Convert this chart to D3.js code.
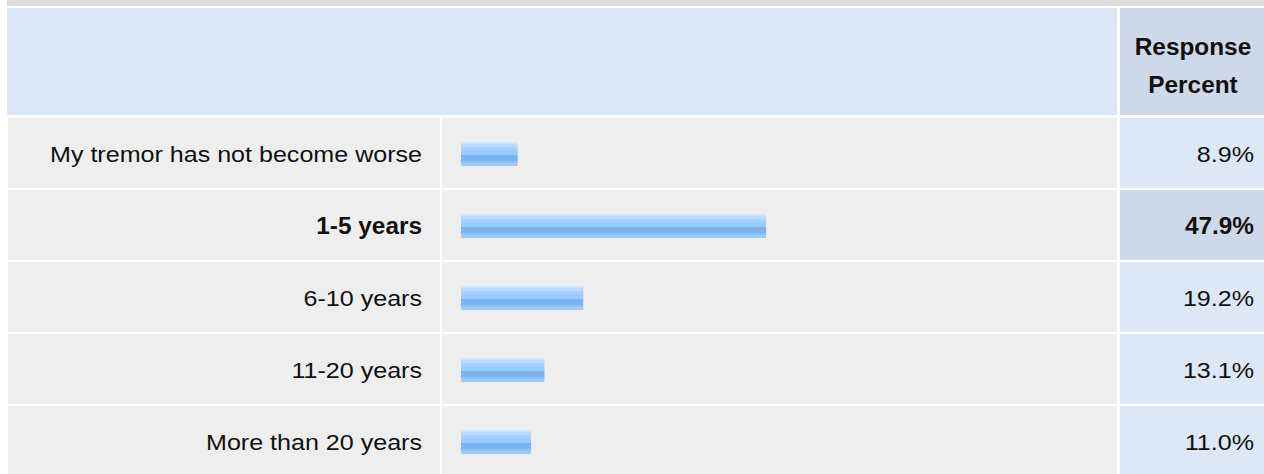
<!DOCTYPE html>
<html>
<head>
<meta charset="utf-8">
<script src="https://cdn.jsdelivr.net/npm/d3@7"></script>
<style>
  html, body { margin: 0; padding: 0; background: #fff; }
  svg { display: block; }
</style>
</head>
<body>
<div id="chart"></div>
<script>
// survey answers and their percentages
const categories = ["My tremor has not become worse", "1-5 years", "6-10 years", "11-20 years", "More than 20 years"];
const percents = [8.9, 47.9, 19.2, 13.1, 11.0];
const highlighted = ["1-5 years"];
const headerLines = ["Response", "Percent"];

function survey_table(div_id) {
    const width = 1264, height = 474;
    const rowTop = 118, rowStep = 72, rowH = 70;
    // text in the source is a bit wide
    const fontFor = bold => bold ? {size: 23, sx: 1.06} : {size: 22, sx: 1.14};

    const svg = d3.select(`#${div_id}`).append("svg")
        .attr("width", width)
        .attr("height", height)
        .style("font-family", "'Liberation Sans', Arial, sans-serif");

    // bar gradient
    const grad = svg.append("defs").append("linearGradient")
        .attr("id", "barGrad")
        .attr("x1", 0).attr("x2", 0).attr("y1", 0).attr("y2", 1);
    [[0, "#cfe6fd"], [0.1, "#cfe6fd"], [0.1, "#b8dbfd"], [0.22, "#b8dbfd"], [0.22, "#a6d2fd"],
     [0.35, "#a6d2fd"], [0.35, "#99cbfc"], [0.55, "#99cbfc"], [0.55, "#7ab3f3"], [0.8, "#7ab3f3"],
     [0.8, "#8cc2f8"], [0.88, "#8cc2f8"], [0.88, "#99cbfc"], [1, "#99cbfc"]]
        .forEach(([o, c]) => grad.append("stop").attr("offset", o).attr("stop-color", c));

    const x = d3.scaleLinear().domain([0, 100]).range([461, 1098]);
    const y = d3.scaleBand().domain(categories).range([rowTop, rowTop + rowStep * categories.length]);

    // top strip + header
    svg.append("rect").attr("x", 7).attr("y", 0).attr("width", width - 7).attr("height", 6).attr("fill", "#dddddd");
    svg.append("rect").attr("x", 7).attr("y", 8).attr("width", 1110).attr("height", 107).attr("fill", "#dce8f6");
    svg.append("rect").attr("x", 1120).attr("y", 8).attr("width", width - 1120).attr("height", 107).attr("fill", "#cdd9e8");

    const hf = fontFor(true);
    svg.append("g").selectAll("text")
        .data(headerLines)
        .join("text")
        .attr("transform", (d, i) => `translate(1193,${55 + i * 38}) scale(${hf.sx},1)`)
        .attr("text-anchor", "middle")
        .attr("font-size", hf.size)
        .attr("font-weight", "bold")
        .attr("fill", "#111")
        .text(d => d);

    const row = svg.append("g").selectAll("g")
        .data(categories)
        .join("g")
        .attr("transform", d => `translate(0,${y(d)})`);

    row.append("rect").attr("x", 8).attr("width", 432).attr("height", rowH).attr("fill", "#eeeeee");
    row.append("rect").attr("x", 442).attr("width", 675).attr("height", rowH).attr("fill", "#eeeeee");
    row.append("rect").attr("x", 1120).attr("width", width - 1120).attr("height", rowH)
        .attr("fill", d => highlighted.includes(d) ? "#cdd9e8" : "#dce8f6");

    row.append("rect")
        .attr("x", x(0))
        .attr("y", 24)
        .attr("width", (d, i) => x(percents[i]) - x(0))
        .attr("height", 24)
        .attr("fill", "url(#barGrad)");

    row.append("text")
        .attr("transform", d => `translate(422,44) scale(${fontFor(highlighted.includes(d)).sx},1)`)
        .attr("text-anchor", "end")
        .attr("font-size", d => fontFor(highlighted.includes(d)).size)
        .attr("font-weight", d => highlighted.includes(d) ? "bold" : null)
        .attr("fill", "#111")
        .text(d => d);

    row.append("text")
        .attr("transform", d => `translate(1254,44) scale(${fontFor(highlighted.includes(d)).sx},1)`)
        .attr("text-anchor", "end")
        .attr("font-size", d => fontFor(highlighted.includes(d)).size)
        .attr("font-weight", d => highlighted.includes(d) ? "bold" : null)
        .attr("fill", "#111")
        .text((d, i) => d3.format(".1f")(percents[i]) + "%");
}

survey_table("chart");
</script>
</body>
</html>
